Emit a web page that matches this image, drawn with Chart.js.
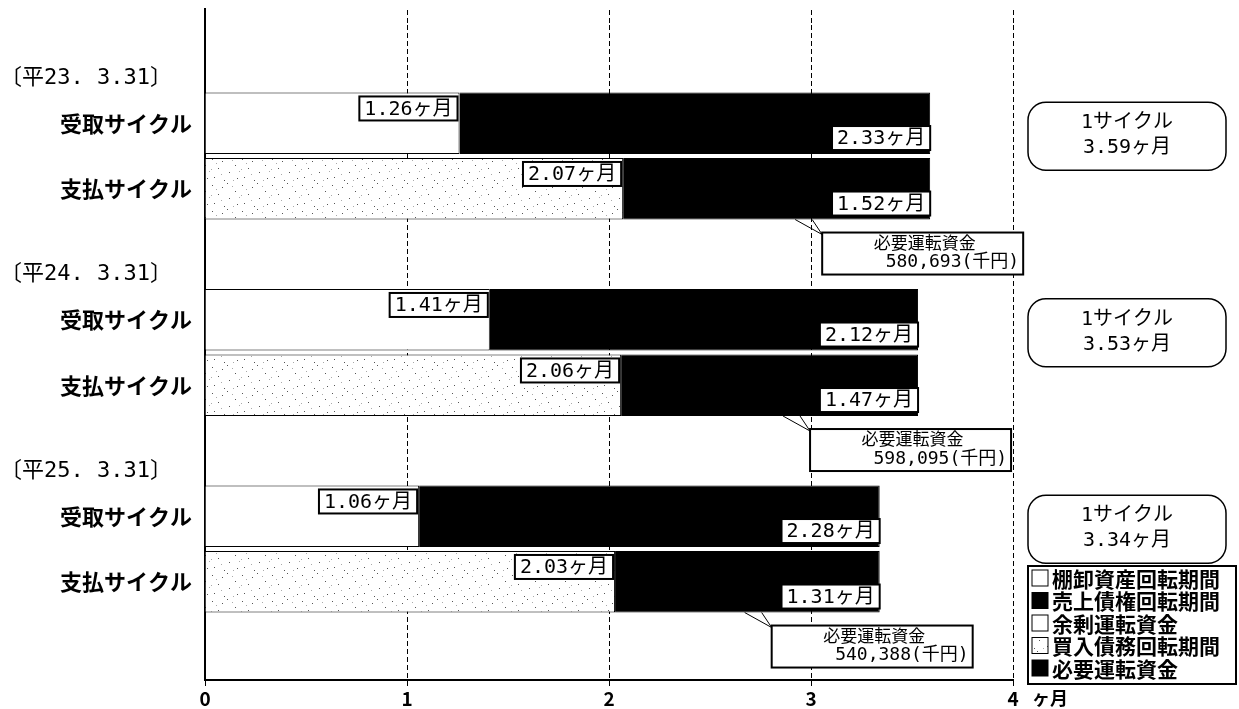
<!DOCTYPE html>
<html>
<head>
<meta charset="utf-8">
<script src="https://cdn.jsdelivr.net/npm/chart.js@4.4.0/dist/chart.umd.min.js"></script>
<style>
  html, body { margin: 0; padding: 0; background: #fff; }
  #wrap { width: 1239px; height: 709px; }
</style>
</head>
<body>
<div id="wrap"><canvas id="cycleChart"></canvas></div>
<script>
// data
const categories = ['', '受取サイクル', '支払サイクル', '', '受取サイクル', '支払サイクル', '', '受取サイクル', '支払サイクル', ''];
const periods = ['〔平23. 3.31〕', '〔平24. 3.31〕', '〔平25. 3.31〕'];
const inventoryTurn = [1.26, 1.41, 1.06];   // 棚卸資産回転期間
const receivableTurn = [2.33, 2.12, 2.28];  // 売上債権回転期間
const surplusFund = [0, 0, 0];              // 余剰運転資金
const payableTurn = [2.07, 2.06, 2.03];     // 買入債務回転期間
const requiredTurn = [1.52, 1.47, 1.31];    // 必要運転資金
const requiredFund = ['580,693', '598,095', '540,388'];
const cycleTotal = [3.59, 3.53, 3.34];
const xTicks = [0, 1, 2, 3, 4];

const JP = '"Noto Sans CJK JP", sans-serif';
const MONO = '"DejaVu Sans Mono", "Noto Sans CJK JP", monospace';

// receive bar sits at slot 1+3g, pay bar at slot 2+3g
function toSlots(values, offset) {
  const out = categories.map(() => null);
  values.forEach((v, g) => { out[offset + g * 3] = v; });
  return out;
}

// sparse speckled fill for 買入債務回転期間
function dotPattern() {
  const c = document.createElement('canvas');
  c.width = 30; c.height = 26;
  const g = c.getContext('2d');
  g.fillStyle = '#fff';
  g.fillRect(0, 0, 30, 26);
  g.fillStyle = '#555';
  [[2, 3], [17, 1], [25, 9], [8, 12], [19, 16], [4, 21], [27, 22], [12, 5], [14, 24]].forEach(p => g.fillRect(p[0], p[1], 1, 1));
  g.fillStyle = '#aaa';
  [[22, 4], [6, 7], [29, 15], [11, 18], [1, 13], [23, 24]].forEach(p => g.fillRect(p[0], p[1], 1, 1));
  return g.createPattern(c, 'repeat');
}
const dots = dotPattern();

function fmt(v) { return v.toFixed(2) + 'ヶ月'; }

function labelBox(ctx, text, right, top) {
  ctx.font = '20px ' + MONO;
  const w = ctx.measureText(text).width + 10;
  ctx.fillStyle = '#fff';
  ctx.fillRect(right - w, top, w, 24);
  ctx.strokeStyle = '#000';
  ctx.lineWidth = 2;
  ctx.strokeRect(right - w, top, w, 24);
  ctx.fillStyle = '#000';
  ctx.textAlign = 'right';
  ctx.textBaseline = 'middle';
  ctx.fillText(text, right - 5, top + 13);
}

const annotations = {
  id: 'annotations',
  afterDatasetsDraw(chart) {
    const ctx = chart.ctx;
    const area = chart.chartArea;
    const y = chart.scales.y;
    ctx.save();

    // axis and grid run a little above the plot
    ctx.strokeStyle = '#000';
    ctx.lineWidth = 2;
    ctx.beginPath();
    ctx.moveTo(area.left, 8);
    ctx.lineTo(area.left, area.top);
    ctx.stroke();
    ctx.lineWidth = 1;
    ctx.setLineDash([5, 3]);
    xTicks.slice(1).forEach(t => {
      const px = Math.round(chart.scales.x.getPixelForValue(t)) + 0.5;
      ctx.beginPath();
      ctx.moveTo(px, 10);
      ctx.lineTo(px, area.top);
      ctx.stroke();
    });
    ctx.setLineDash([]);

    periods.forEach((p, g) => {
      const rIdx = 1 + g * 3, pIdx = 2 + g * 3;
      const inv = chart.getDatasetMeta(0).data[rIdx].getProps(['x', 'y', 'base', 'height'], true);
      const rec = chart.getDatasetMeta(1).data[rIdx].getProps(['x', 'y', 'base', 'height'], true);
      const pay = chart.getDatasetMeta(3).data[pIdx].getProps(['x', 'y', 'base', 'height'], true);
      const req = chart.getDatasetMeta(4).data[pIdx].getProps(['x', 'y', 'base', 'height'], true);

      // period header
      ctx.font = '22px ' + MONO;
      ctx.fillStyle = '#000';
      ctx.textAlign = 'left';
      ctx.textBaseline = 'middle';
      ctx.fillText(p, 0, y.getPixelForValue(rIdx) - 45);

      labelBox(ctx, fmt(inventoryTurn[g]), inv.x - 2, inv.y - inv.height / 2 + 4);
      labelBox(ctx, fmt(receivableTurn[g]), rec.x, rec.y + rec.height / 2 - 28);
      labelBox(ctx, fmt(payableTurn[g]), pay.x - 2, pay.y - pay.height / 2 + 4);
      labelBox(ctx, fmt(requiredTurn[g]), req.x, req.y + req.height / 2 - 28);

      // 必要運転資金 callout
      const bottom = req.y + req.height / 2;
      const bx = req.x - 108, by = bottom + 13, bw = 201, bh = 42;
      ctx.strokeStyle = '#000';
      ctx.lineWidth = 1;
      ctx.beginPath();
      ctx.moveTo(req.x - 135, bottom);
      ctx.lineTo(bx, by + 2);
      ctx.lineTo(req.x - 118, bottom);
      ctx.stroke();
      ctx.fillStyle = '#fff';
      ctx.fillRect(bx, by, bw, bh);
      ctx.lineWidth = 2;
      ctx.strokeRect(bx, by, bw, bh);
      ctx.fillStyle = '#000';
      ctx.font = '17px ' + MONO;
      ctx.textAlign = 'center';
      ctx.fillText('必要運転資金', bx + bw / 2 + 2, by + 12);
      ctx.font = '18px ' + MONO;
      ctx.textAlign = 'right';
      ctx.fillText(requiredFund[g] + '(千円)', bx + bw - 4, by + 30);

      // 1サイクル box
      const cy = y.getPixelForValue(rIdx) + 13;
      const cx = 1028, cw = 198, ch = 68, r = 18;
      ctx.lineWidth = 1.5;
      ctx.beginPath();
      ctx.roundRect(cx, cy - ch / 2, cw, ch, r);
      ctx.fillStyle = '#fff';
      ctx.fill();
      ctx.stroke();
      ctx.fillStyle = '#000';
      ctx.font = '20px ' + MONO;
      ctx.textAlign = 'center';
      ctx.fillText('1サイクル', cx + cw / 2, cy - 13);
      ctx.fillText(fmt(cycleTotal[g]), cx + cw / 2, cy + 12);
    });

    // unit
    ctx.font = 'bold 18px ' + JP;
    ctx.textAlign = 'left';
    ctx.fillText('ヶ月', 1032, 698);

    // legend box
    const lx = 1028, ly = 566, lw = 208, lh = 118;
    ctx.fillStyle = '#fff';
    ctx.fillRect(lx, ly, lw, lh);
    ctx.lineWidth = 2;
    ctx.strokeStyle = '#000';
    ctx.strokeRect(lx, ly, lw, lh);
    chart.data.datasets.forEach((ds, i) => {
      const ry = ly + 12 + i * 22.5;
      ctx.fillStyle = ds.backgroundColor;
      ctx.fillRect(lx + 4, ry - 8, 16, 16);
      ctx.lineWidth = 1;
      ctx.strokeRect(lx + 4, ry - 8, 16, 16);
      ctx.fillStyle = '#000';
      ctx.font = 'bold 21px ' + JP;
      ctx.textAlign = 'left';
      ctx.fillText(ds.label, lx + 24, ry + 1);
    });

    ctx.restore();
  }
};

const datasets = [
  { label: '棚卸資産回転期間', data: toSlots(inventoryTurn, 1), backgroundColor: '#fff' },
  { label: '売上債権回転期間', data: toSlots(receivableTurn, 1), backgroundColor: '#000' },
  { label: '余剰運転資金', data: toSlots(surplusFund, 2), backgroundColor: '#fff' },
  { label: '買入債務回転期間', data: toSlots(payableTurn, 2), backgroundColor: dots },
  { label: '必要運転資金', data: toSlots(requiredTurn, 2), backgroundColor: '#000' }
].map(d => Object.assign(d, {
  borderColor: '#000',
  borderWidth: 1,
  borderSkipped: 'start',
  categoryPercentage: 1,
  barPercentage: 0.94
}));

new Chart(document.getElementById('cycleChart'), {
  type: 'bar',
  data: { labels: categories, datasets: datasets },
  plugins: [annotations],
  options: {
    indexAxis: 'y',
    responsive: true,
    maintainAspectRatio: false,
    animation: false,
    layout: { padding: { top: 25, right: 226, bottom: 0, left: 0 } },
    plugins: { legend: { display: false }, tooltip: { enabled: false } },
    scales: {
      x: {
        stacked: true,
        min: 0,
        max: 4,
        afterFit(scale) { scale.height = 29; },
        afterBuildTicks(scale) { scale.ticks = xTicks.map(v => ({ value: v })); },
        border: { display: true, color: '#000', width: 2, dash: [5, 3] },
        grid: {
          color: '#000',
          lineWidth: 1,
          drawTicks: true,
          tickLength: 6,
          tickBorderDash: [],
          tickColor: '#000'
        },
        ticks: { color: '#000', padding: 1, font: { family: JP, size: 19, weight: 'bold' } }
      },
      y: {
        stacked: true,
        afterFit(scale) { scale.width = 205; },
        border: { display: true, color: '#000', width: 2 },
        grid: { display: false },
        ticks: { color: '#000', padding: 5, autoSkip: false, font: { family: JP, size: 22, weight: 'bold' } }
      }
    }
  }
});
</script>
</body>
</html>
